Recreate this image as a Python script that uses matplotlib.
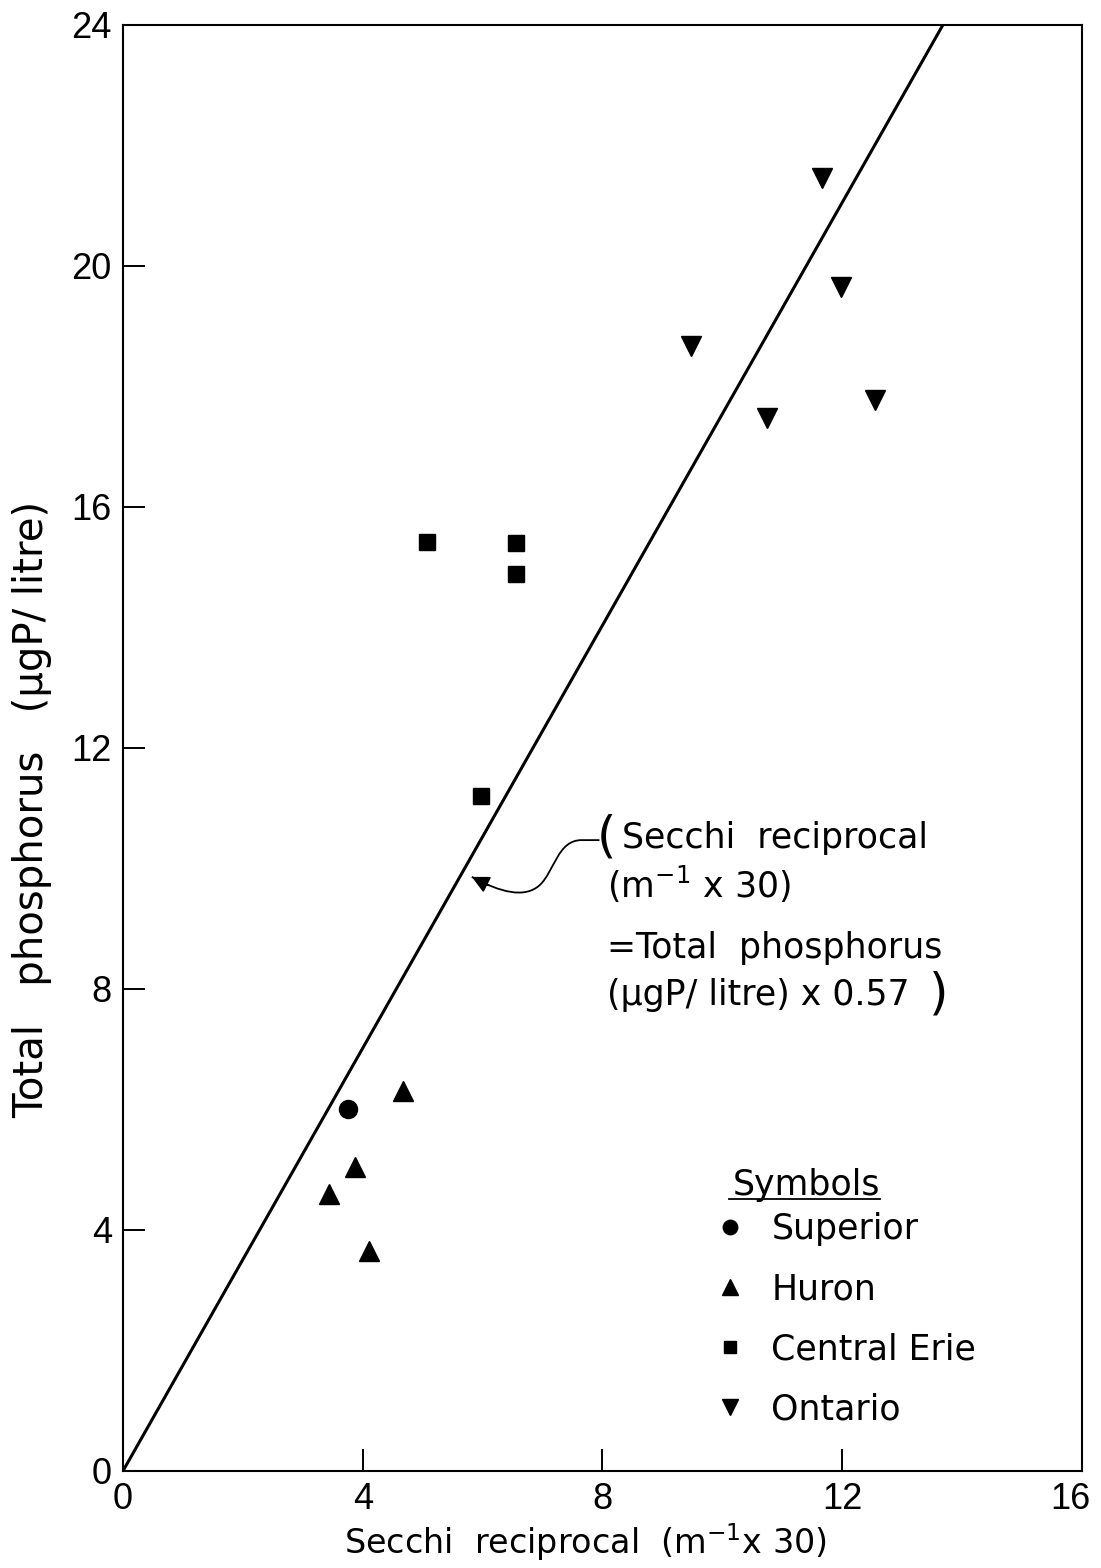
"""Total phosphorus against Secchi reciprocal for the Great Lakes."""

import matplotlib.pyplot as plt
import matplotlib.transforms as mtransforms
import numpy as np
from matplotlib.patches import PathPatch
from matplotlib.path import Path

plt.rcParams["font.family"] = ["DejaVu Sans"]

# Secchi reciprocal (m^-1 x 30) and total phosphorus (ug P/litre) per lake
superior_x = [3.76]
superior_y = [6.0]
huron_x = [4.67, 3.87, 3.44, 4.10]
huron_y = [6.30, 5.05, 4.59, 3.65]
erie_x = [5.07, 6.56, 6.55, 5.97]
erie_y = [15.41, 15.40, 14.88, 11.21]
ontario_x = [11.66, 11.98, 9.48, 10.75, 12.54]
ontario_y = [21.46, 19.65, 18.67, 17.48, 17.78]

# Secchi reciprocal = total phosphorus x 0.57
factor = 0.57

x_ticks = [0, 4, 8, 12, 16]
y_ticks = [0, 4, 8, 12, 16, 20, 24]

fig = plt.figure(figsize=(11.01, 15.68), dpi=100)
ax = fig.add_axes([0.1117, 0.0619, 0.871, 0.9222])

tp = np.array([0, 24])
ax.plot(tp * factor, tp, color="black", lw=2.2, zorder=2)

ax.plot(superior_x, superior_y, "o", color="black", ms=13, ls="none", label="Superior")
ax.plot(huron_x, huron_y, "^", color="black", ms=15, ls="none", label="Huron")
ax.plot(erie_x, erie_y, "s", color="black", ms=11, ls="none", label="Central Erie")
ax.plot(ontario_x, ontario_y, "v", color="black", ms=15, ls="none", label="Ontario")

ax.set_xlim(0, 16)
ax.set_ylim(0, 24)
ax.set_xticks(x_ticks)
ax.set_yticks(y_ticks)
ax.tick_params(direction="in", length=16, width=1.4, labelsize=26, pad=8)
for lbl in ax.get_xticklabels() + ax.get_yticklabels():
    lbl.set_fontfamily("Liberation Sans")
# keep the last x label inside the figure
last = ax.get_xticklabels()[-1]
last.set_transform(last.get_transform() +
                   mtransforms.ScaledTranslation(-12 / 100, 0, fig.dpi_scale_trans))
for s in ax.spines.values():
    s.set_linewidth(1.5)

fig.text(585 / 1101, 1 - 1542 / 1568, "Secchi  reciprocal  (m$^{-1}$x 30)",
         fontsize=24, ha="center", va="center")
fig.text(32 / 1101, 1 - 809 / 1568, "Total   phosphorus   (\u00b5gP/ litre)",
         fontsize=29, ha="center", va="center", rotation=90)

# equation note with its curved pointer onto the line
ax.text(8.23, 10.51, "(", fontsize=36, va="center", ha="right")
ax.text(8.32, 10.51, "Secchi  reciprocal", fontsize=25, va="center", ha="left")
ax.text(8.07, 9.73, "(m$^{-1}$ x 30)", fontsize=25, va="center", ha="left")
ax.text(8.07, 8.68, "=Total  phosphorus", fontsize=25, va="center", ha="left")
ax.text(8.07, 7.90, "(\u00b5gP/ litre) x 0.57", fontsize=25, va="center", ha="left")
ax.text(13.45, 7.90, ")", fontsize=36, va="center", ha="left")

tip = (5.82, 9.86)
verts = [(7.95, 10.47), (7.65, 10.47),
         (7.25, 10.47), (7.2, 9.95), (6.95, 9.72),
         (6.7, 9.5), (6.3, 9.6), tip]
codes = [Path.MOVETO, Path.LINETO,
         Path.CURVE4, Path.CURVE4, Path.CURVE4,
         Path.CURVE4, Path.CURVE4, Path.CURVE4]
ax.add_patch(PathPatch(Path(verts, codes), fill=False, lw=1.3, color="black"))
ax.annotate("", xy=tip, xytext=(6.1, 9.72),
            arrowprops=dict(arrowstyle="-|>", mutation_scale=26, lw=1.3,
                            color="black", shrinkA=0, shrinkB=0))

# symbol key: underlined heading above a frameless legend
title = ax.text(0.6356, 0.1909, "Symbols", fontsize=25, ha="left", va="baseline",
                transform=ax.transAxes)
ax.legend(loc="upper left", bbox_to_anchor=(0.6, 0.1909), frameon=False,
          fontsize=25, borderpad=0, handlelength=0.8, handletextpad=0.8,
          labelspacing=0.75, markerscale=0.8)

fig.canvas.draw()
bb = title.get_window_extent()
base = ax.transAxes.transform((0, 0.1909))[1]
inv = fig.transFigure.inverted()
(x0, y0), (x1, _) = inv.transform([(bb.x0 - 4, base - 4), (bb.x1, base - 4)])
fig.add_artist(plt.Line2D([x0, x1], [y0, y0], color="black", lw=1.3))

fig.savefig("out.png", dpi=100)
